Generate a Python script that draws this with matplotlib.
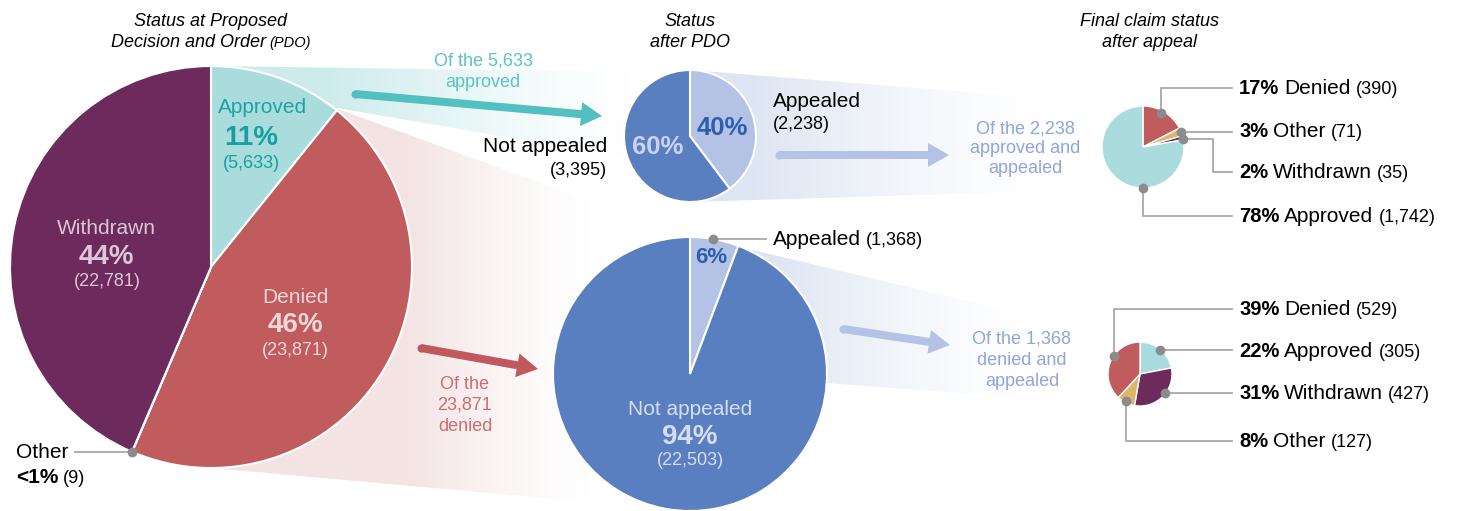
import numpy as np
import matplotlib.pyplot as plt
from matplotlib.patches import Polygon

plt.rcParams['font.family'] = ['Liberation Sans', 'DejaVu Sans']

# ---- data ----
pdo_labels = ['Approved', 'Denied', 'Other', 'Withdrawn']
pdo_counts = [5633, 23871, 9, 22781]
pdo_pct = ['11%', '46%', '<1%', '44%']

appr_labels = ['Appealed', 'Not appealed']
appr_counts = [2238, 3395]
appr_pct = ['40%', '60%']

den_labels = ['Appealed', 'Not appealed']
den_counts = [1368, 22503]
den_pct = ['6%', '94%']

fin_appr_labels = ['Denied', 'Other', 'Withdrawn', 'Approved']
fin_appr_counts = [390, 71, 35, 1742]
fin_appr_pct = ['17%', '3%', '2%', '78%']

fin_den_labels = ['Approved', 'Withdrawn', 'Other', 'Denied']
fin_den_counts = [305, 427, 127, 529]
fin_den_pct = ['22%', '31%', '8%', '39%']

status_col = {'Approved': '#aadcdd', 'Denied': '#c05b5e',
              'Other': '#dbb66b', 'Withdrawn': '#6c2a5d'}
blue = '#597fc1'
lblue = '#b3c2e5'
grey_dot = '#8c8c8c'
grey_line = '#a8a8a8'

W, H = 1460, 511
fig = plt.figure(figsize=(W / 100, H / 100), dpi=100)
ax = fig.add_axes([0, 0, 1, 1])
ax.set_xlim(0, W)
ax.set_ylim(H, 0)   # pixel like coords, y goes down
ax.axis('off')
rend = fig.canvas.get_renderer()


def fmt(n):
    return '({:,})'.format(n)


def pie(vals, cols, cx, cy, r, lw=1.5):
    # y axis is inverted: start at -90 and go "counterclock" = clockwise on screen
    ax.pie(vals, colors=cols, center=(cx, cy), radius=r, startangle=-90,
           counterclock=True, frame=True,
           wedgeprops=dict(edgecolor='white', linewidth=lw, zorder=2))


def on_pie(cx, cy, r, ang, f=1.0):
    a = np.radians(ang)
    return cx + f * r * np.sin(a), cy - f * r * np.cos(a)


def funnel(pts, rgb, x0, x1, a0):
    # colour faded into white from left to right, clipped to the polygon
    poly = Polygon(pts, closed=True, facecolor='none', edgecolor='none')
    ax.add_patch(poly)
    xs = np.array([p[0] for p in pts])
    ys = np.array([p[1] for p in pts])
    gx = np.linspace(xs.min(), xs.max(), 500)
    a = a0 * np.clip((x1 - gx) / (x1 - x0), 0, 1) ** 1.3
    img = np.ones((1, 500, 3))
    for k in range(3):
        img[0, :, k] = 1 - a * (1 - rgb[k])
    im = ax.imshow(img, extent=(xs.min(), xs.max(), ys.max(), ys.min()),
                   aspect='auto', interpolation='bilinear', zorder=0)
    im.set_clip_path(poly)


def line_text(x, y, parts, ha='left', color='black', style='normal', gap=5):
    ts, ws = [], []
    for s, size, weight in parts:
        t = ax.text(0, y, s, fontsize=size, fontweight=weight, color=color,
                    style=style, va='baseline', ha='left', zorder=6)
        ts.append(t)
        ws.append(t.get_window_extent(rend).width)
    total = sum(ws) + gap * (len(ws) - 1)
    if ha == 'center':
        x -= total / 2
    elif ha == 'right':
        x -= total
    for t, w in zip(ts, ws):
        t.set_x(x)
        x += w + gap


def dot(x, y):
    ax.plot(x, y, 'o', ms=6, color=grey_dot, zorder=7)


# ---- funnels (behind pies) ----
funnel([(211, 66), (640, 72), (640, 160), (337, 108), (211, 268)],
       (0.36, 0.75, 0.76), 330, 630, 0.3)
funnel([(335, 108), (690, 237), (690, 511), (211, 468), (211, 268)],
       (0.75, 0.36, 0.37), 405, 590, 0.17)
funnel([(690, 70), (1143, 106), (1143, 188), (690, 202)],
       (0.35, 0.5, 0.76), 750, 1040, 0.2)
funnel([(690, 237), (740, 247), (1140, 342), (1140, 406), (826, 383), (690, 374)],
       (0.35, 0.5, 0.76), 770, 1020, 0.2)

# ---- pies ----
pie(pdo_counts, [status_col[s] for s in pdo_labels], 211, 267, 201)
pie(appr_counts, [lblue, blue], 690, 136, 66)
pie(den_counts, [lblue, blue], 690, 374, 137)
pie(fin_appr_counts, [status_col[s] for s in fin_appr_labels], 1143, 147, 41, lw=1)
pie(fin_den_counts, [status_col[s] for s in fin_den_labels], 1140, 374, 32, lw=1)

# ---- arrows ----
for (x0, y0, x1, y1, c) in [(355, 94, 602, 116, '#52bfc0'),
                            (421, 348, 538, 369, '#c0595d'),
                            (779, 155, 949, 155, lblue),
                            (843, 329, 950, 345, lblue)]:
    ax.arrow(x0, y0, x1 - x0, y1 - y0, width=8, head_width=24, head_length=21,
             length_includes_head=True, color=c, lw=0, zorder=3)
    ax.plot(x0, y0, 'o', ms=5.8, color=c, mew=0, zorder=3)

# ---- titles ----
line_text(211, 26, [('Status at Proposed', 13, 'normal')], ha='center', style='italic')
line_text(211, 47, [('Decision and Order', 13, 'normal'), ('(PDO)', 10.5, 'normal')],
          ha='center', style='italic', gap=4)
line_text(690, 26, [('Status', 13, 'normal')], ha='center', style='italic')
line_text(690, 47, [('after PDO', 13, 'normal')], ha='center', style='italic')
line_text(1149, 26, [('Final claim status', 13, 'normal')], ha='center', style='italic')
line_text(1149, 47, [('after appeal', 13, 'normal')], ha='center', style='italic')

# ---- first pie labels ----
line_text(263, 113, [(pdo_labels[0], 15, 'normal')], ha='center', color='#1aa4a4')
line_text(251, 145, [(pdo_pct[0], 20, 'bold')], ha='center', color='#16a0a0')
line_text(251, 168, [(fmt(pdo_counts[0]), 13, 'normal')], ha='center', color='#16a0a0')

line_text(106, 234, [(pdo_labels[3], 15, 'normal')], ha='center', color='#dcc5d8')
line_text(106, 264, [(pdo_pct[3], 20, 'bold')], ha='center', color='#dcc5d8')
line_text(107, 286, [(fmt(pdo_counts[3]), 13, 'normal')], ha='center', color='#dcc5d8')

line_text(295, 303, [(pdo_labels[1], 15, 'normal')], ha='center', color='#f3d6d6')
line_text(295, 332, [(pdo_pct[1], 20, 'bold')], ha='center', color='#f3d6d6')
line_text(295, 355, [(fmt(pdo_counts[1]), 13, 'normal')], ha='center', color='#f3d6d6')

ox, oy = on_pie(211, 267, 201, 360 * (pdo_counts[0] + pdo_counts[1]) / sum(pdo_counts))
ax.plot([75, ox], [oy, oy], color=grey_line, lw=1.3, zorder=5)
dot(ox, oy)
line_text(16, oy + 6, [(pdo_labels[2], 15, 'normal')])
line_text(16, oy + 31, [(pdo_pct[2], 15, 'bold'), (fmt(pdo_counts[2]), 13, 'normal')])

# ---- notes ----
for i, s in enumerate(['Of the 5,633', 'approved']):
    line_text(483, 65 + 22 * i, [(s, 13, 'normal')], ha='center', color='#5cc3c3')
for i, s in enumerate(['Of the', '23,871', 'denied']):
    line_text(465, 389 + 21 * i, [(s, 13, 'normal')], ha='center', color='#d06b6f')
for i, s in enumerate(['Of the 2,238', 'approved and', 'appealed']):
    line_text(1025, 133 + 20 * i, [(s, 13, 'normal')], ha='center', color='#8ea6dd')
for i, s in enumerate(['Of the 1,368', 'denied and', 'appealed']):
    line_text(1022, 344 + 21 * i, [(s, 13, 'normal')], ha='center', color='#8ea6dd')

# ---- second pie labels ----
line_text(722, 135, [(appr_pct[0], 18.5, 'bold')], ha='center', color='#2e5fae')
line_text(658, 154, [(appr_pct[1], 18.5, 'bold')], ha='center', color='#c9d3ee')
line_text(773, 107, [(appr_labels[0], 15, 'normal')])
line_text(773, 129, [(fmt(appr_counts[0]), 13, 'normal')])
line_text(607, 152, [(appr_labels[1], 15, 'normal')], ha='right')
line_text(607, 175, [(fmt(appr_counts[1]), 13, 'normal')], ha='right')

# ---- third pie labels ----
dx, dy = on_pie(690, 374, 137, 9.5)
ax.plot([dx, 766], [dy, dy], color=grey_line, lw=1.3, zorder=5)
dot(dx, dy)
line_text(773, dy + 6, [(den_labels[0], 15, 'normal'), (fmt(den_counts[0]), 13, 'normal')])
line_text(711, 263, [(den_pct[0], 16, 'bold')], ha='center', color='#2e5fae')
line_text(690, 415, [(den_labels[1], 15, 'normal')], ha='center', color='#d5ddf0')
line_text(690, 444, [(den_pct[1], 20, 'bold')], ha='center', color='#d5ddf0')
line_text(690, 465, [(fmt(den_counts[1]), 13, 'normal')], ha='center', color='#d5ddf0')


# ---- final pies: leader lines and labels ----
def leaders(cx, cy, r, labels, pcts, counts, rows, spots):
    for lab, p, n, ry, (ang, f, elbow) in zip(labels, pcts, counts, rows, spots):
        px, py = on_pie(cx, cy, r, ang, f)
        if elbow is None:
            if abs(py - ry) < 2:
                xs, ys = [px, 1232], [py, py]
            else:
                xs, ys = [px, px, 1232], [py, ry, ry]
        else:
            xs, ys = [px, elbow, elbow, 1232], [py, py, ry, ry]
        ax.plot(xs, ys, color=grey_line, lw=1.3, zorder=5)
        dot(px, py)
        line_text(1239, ry + 6, [(p, 14.5, 'bold'), (lab, 15, 'normal'),
                                 (fmt(n), 13, 'normal')])


leaders(1143, 147, 41, fin_appr_labels, fin_appr_pct, fin_appr_counts,
        [88, 131, 172, 216],
        [(28, 0.95, None), (68, 1.0, None), (79, 1.0, 1213), (180, 1.0, None)])
leaders(1140, 374, 32, fin_den_labels, fin_den_pct, fin_den_counts,
        [351, 393, 441, 309],
        [(40, 0.97, None), (127, 0.97, None), (207, 0.95, None), (305, 1.0, None)])

ax.set_xlim(0, W)
ax.set_ylim(H, 0)
fig.savefig('out.png', dpi=100)
